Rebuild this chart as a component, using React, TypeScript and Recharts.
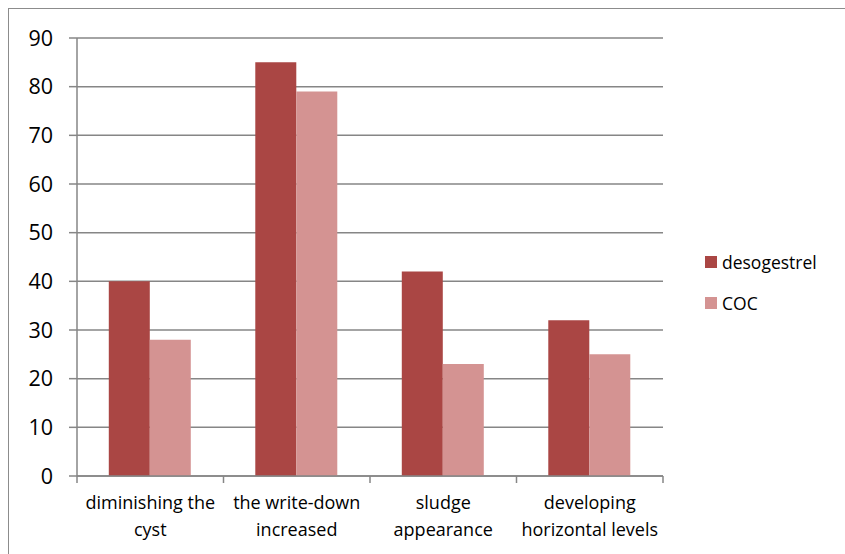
import React from "react";
import { BarChart, Bar, XAxis, YAxis, CartesianGrid } from "recharts";

const categories = [
  "diminishing the cyst",
  "the write-down increased",
  "sludge appearance",
  "developing horizontal levels",
];
// how each category label wraps onto two lines
const tickLines = [
  ["diminishing the", "cyst"],
  ["the write-down", "increased"],
  ["sludge", "appearance"],
  ["developing", "horizontal levels"],
];
const desogestrel = [40, 85, 42, 32];
const coc = [28, 79, 23, 25];
const yTicks = [0, 10, 20, 30, 40, 50, 60, 70, 80, 90];

const seriesNames = ["desogestrel", "COC"];
const colors = ["#AA4644", "#D49392"];

const data = categories.map((c, i) => ({
  name: c,
  desogestrel: desogestrel[i],
  COC: coc[i],
}));

const FONT = "'Open Sans', sans-serif";
const AXIS = "#868686";

const CategoryTick = (props: any) => {
  const { x, y, payload, index, width } = props;
  const band = width / categories.length;
  const lines = tickLines[index] || [payload.value];
  const left = x - band / 2;
  return (
    <g>
      <line x1={left} x2={left} y1={y - 8} y2={y - 1} stroke={AXIS} strokeWidth={1.5} />
      {index === categories.length - 1 && (
        <line x1={left + band} x2={left + band} y1={y - 8} y2={y - 1} stroke={AXIS} strokeWidth={1.5} />
      )}
      {lines.map((l: string, k: number) => (
        <text
          key={k}
          x={x}
          y={y + 25 + k * 27}
          textAnchor="middle"
          fontSize={18}
          fontFamily={FONT}
          fill="#000"
        >
          {l}
        </text>
      ))}
    </g>
  );
};

const LegendBox = () => (
  <div style={{ fontFamily: FONT, fontSize: 17.5, color: "#000", lineHeight: "22px" }}>
    {seriesNames.map((s, i) => (
      <div key={s} style={{ display: "flex", alignItems: "center", height: 22, marginBottom: 19 }}>
        <span
          style={{ display: "inline-block", width: 12, height: 12, background: colors[i], marginRight: 5 }}
        />
        <span>{s}</span>
      </div>
    ))}
  </div>
);

export default function App() {
  return (
    <div style={{ position: "relative", width: 845, height: 554, overflow: "hidden", background: "#fff" }}>
      <style>{"body{margin:0;overflow:hidden}"}</style>
      <div
        style={{
          position: "absolute",
          left: 8,
          top: 8,
          width: 900,
          height: 600,
          borderLeft: "1.5px solid #8c8c8c",
          borderTop: "1.5px solid #8c8c8c",
        }}
      />
      <div style={{ position: "absolute", left: 0, top: 0 }}>
        <BarChart
          width={845}
          height={554}
          data={data}
          margin={{ top: 38, right: 182, bottom: 0, left: 0 }}
          barGap={0}
          barCategoryGap="21.7%"
        >
          <CartesianGrid vertical={false} stroke={AXIS} strokeWidth={1.5} />
          <XAxis
            dataKey="name"
            axisLine={{ stroke: AXIS, strokeWidth: 1.5 }}
            tickLine={false}
            tick={<CategoryTick />}
            interval={0}
            height={78}
          />
          <YAxis
            domain={[0, 90]}
            ticks={yTicks}
            width={77}
            axisLine={{ stroke: AXIS, strokeWidth: 1.5 }}
            tickLine={{ stroke: AXIS, strokeWidth: 1.5 }}
            tickSize={8}
            tickMargin={16}
            tick={{ fontSize: 21.5, fontFamily: FONT, fill: "#000" }}
          />
          {seriesNames.map((s, i) => (
            <Bar key={s} dataKey={s} fill={colors[i]} isAnimationActive={false} />
          ))}
        </BarChart>
      </div>
      <div style={{ position: "absolute", left: 705, top: 251 }}>
        <LegendBox />
      </div>
    </div>
  );
}
